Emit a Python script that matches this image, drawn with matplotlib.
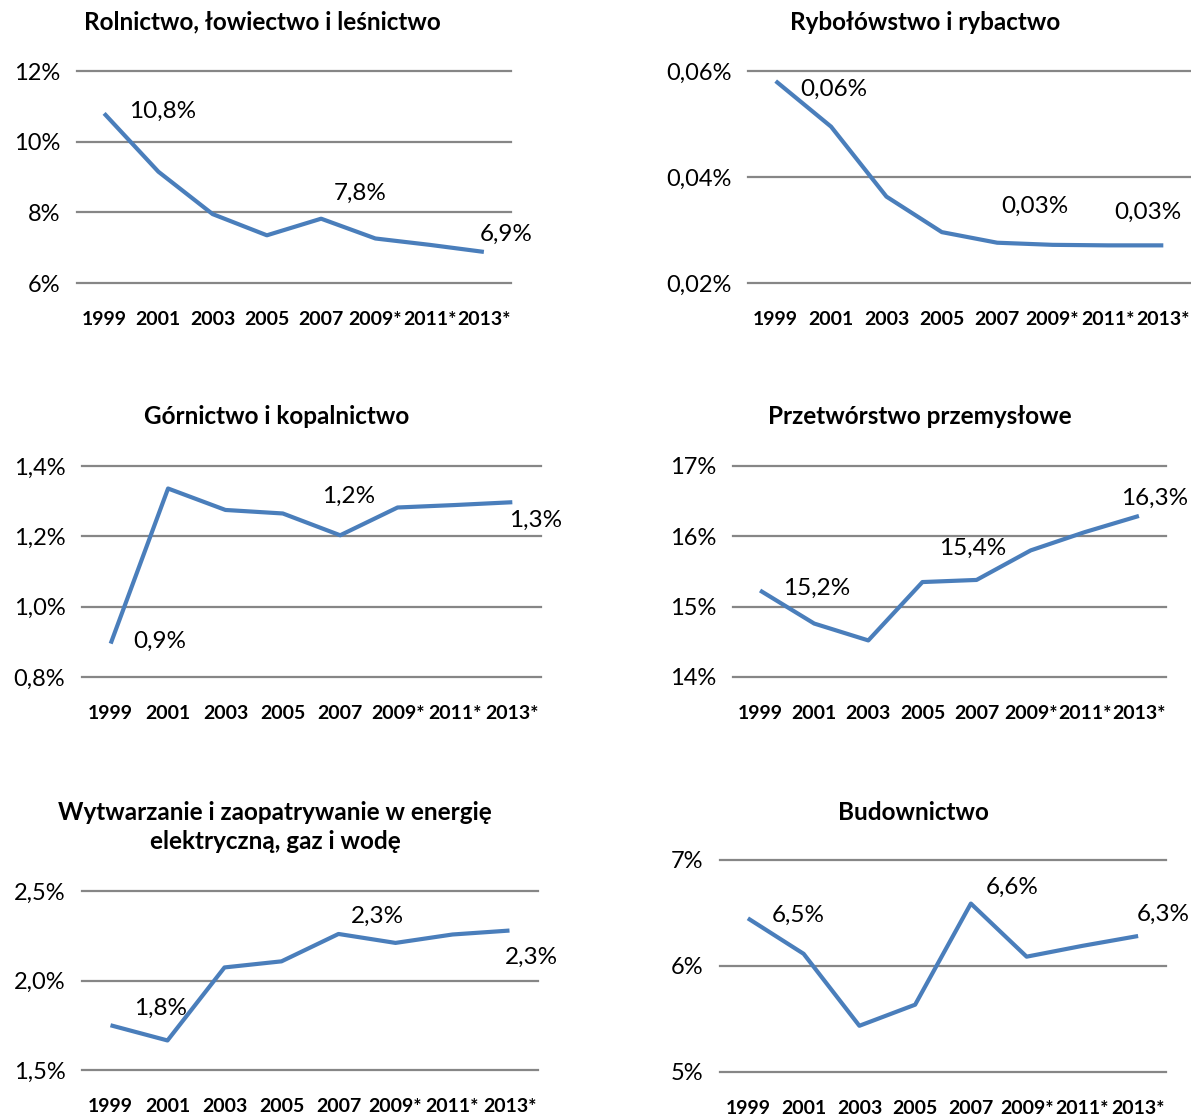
import matplotlib
matplotlib.use("Agg")
import matplotlib.pyplot as plt

plt.rcParams['font.family'] = ['Lato', 'DejaVu Sans']

years = ['1999', '2001', '2003', '2005', '2007', '2009*', '2011*', '2013*']

rolnictwo = [10.8, 9.15, 7.95, 7.35, 7.82, 7.26, 7.08, 6.88]
rybolowstwo = [0.0581, 0.0495, 0.0363, 0.0296, 0.0276, 0.0272, 0.0271, 0.0271]
gornictwo = [0.895, 1.336, 1.275, 1.265, 1.203, 1.282, 1.289, 1.297]
przetworstwo = [15.23, 14.76, 14.52, 15.35, 15.38, 15.80, 16.06, 16.29]
energia = [1.75, 1.665, 2.073, 2.107, 2.26, 2.21, 2.257, 2.279]
budownictwo = [6.45, 6.115, 5.436, 5.635, 6.589, 6.088, 6.19, 6.283]

titles = ['Rolnictwo, łowiectwo i leśnictwo', 'Rybołówstwo i rybactwo',
          'Górnictwo i kopalnictwo', 'Przetwórstwo przemysłowe',
          'Wytwarzanie i zaopatrywanie w energię\nelektryczną, gaz i wodę',
          'Budownictwo']
series = [rolnictwo, rybolowstwo, gornictwo, przetworstwo, energia, budownictwo]
yticks = [[6, 8, 10, 12], [0.02, 0.04, 0.06], [0.8, 1.0, 1.2, 1.4],
          [14, 15, 16, 17], [1.5, 2.0, 2.5], [5, 6, 7]]
ytick_fmt = ['{:.0f}%', '{:.2f}%', '{:.1f}%', '{:.0f}%', '{:.1f}%', '{:.0f}%']

# data labels shown at 1999, 2007 and 2013*
label_idx = [0, 4, 7]
label_text = [['10,8%', '7,8%', '6,9%'],
              ['0,06%', '0,03%', '0,03%'],
              ['0,9%', '1,2%', '1,3%'],
              ['15,2%', '15,4%', '16,3%'],
              ['1,8%', '2,3%', '2,3%'],
              ['6,5%', '6,6%', '6,3%']]

# layout (pixels of a 1191x1117 canvas)
W, H = 1191, 1117
axes_px = [(77, 511, 71, 283), (748, 1191, 71, 283),
           (82, 541, 466, 677), (733, 1166, 466, 677),
           (82, 538, 891, 1070), (720, 1166, 860, 1072)]
title_px = [(262, 22), (925, 22), (277, 417), (920, 417), (275, 827), (913, 812)]
label_off = [[(42, 1.5), (28, 18), (16, 13)],
             [(42, -6), (27, 26), (-11, 24)],
             [(35, 1.5), (6, 28), (17, -13)],
             [(41, 1.5), (-3, 22.5), (11, 13)],
             [(36, 12.5), (28, 12.5), (16, -19)],
             [(36, 2), (30, 12), (18, 15.5)]]

line_color = '#4A7EBB'
grid_color = '#868686'

fig = plt.figure(figsize=(W / 100, H / 100), dpi=100)

for i in range(6):
    x0, x1, y0, y1 = axes_px[i]
    ax = fig.add_axes([x0 / W, 1 - y1 / H, (x1 - x0) / W, (y1 - y0) / H])
    vals = series[i]
    ax.plot(range(len(years)), vals, color=line_color, lw=3.0,
            solid_joinstyle='round', solid_capstyle='butt', zorder=3)
    ax.set_xlim(-0.5, len(years) - 0.5)
    ax.set_ylim(yticks[i][0], yticks[i][-1])
    ax.set_yticks(yticks[i])
    ax.set_yticklabels([ytick_fmt[i].format(v).replace('.', ',') for v in yticks[i]],
                       fontsize=17)
    ax.set_xticks(range(len(years)))
    ax.set_xticklabels(years, fontsize=14, fontweight='bold')
    ax.tick_params(axis='both', length=0)
    ax.tick_params(axis='y', pad=12)
    ax.tick_params(axis='x', pad=20)
    for s in ax.spines.values():
        s.set_visible(False)
    for v in yticks[i]:
        ax.axhline(v, color=grid_color, lw=1.6, zorder=1, clip_on=False)
    for k, j in enumerate(label_idx):
        ax.annotate(label_text[i][k], (j, vals[j]), xytext=label_off[i][k],
                    textcoords='offset points', ha='center', va='center',
                    fontsize=17.5, color='#000000')
    tx, ty = title_px[i]
    fig.text(tx / W, 1 - ty / H, titles[i], ha='center', va='center',
             fontsize=17.5, fontweight='bold', linespacing=1.3)

fig.savefig('out.png', dpi=100, facecolor='white')
